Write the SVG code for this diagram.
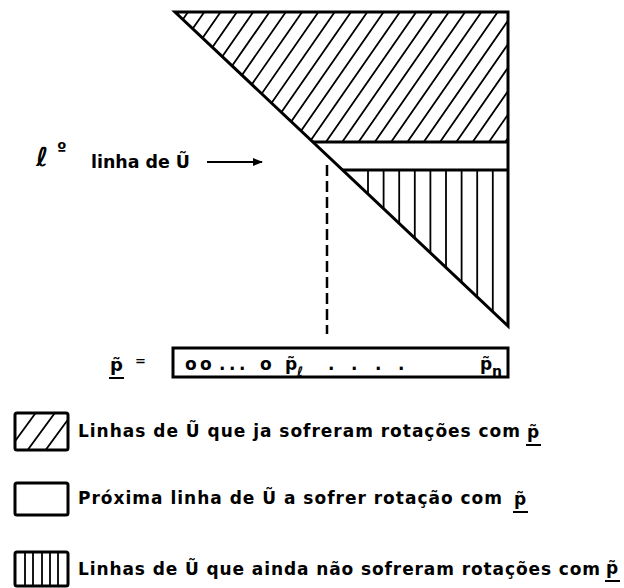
<svg xmlns="http://www.w3.org/2000/svg" width="624" height="588" viewBox="0 0 624 588">
<style>
.t{font-family:"DejaVu Sans","Liberation Sans",Arial,sans-serif;font-weight:bold;fill:#000}
.ol{fill:none;stroke:#000;stroke-width:3;stroke-linejoin:miter}
.h{fill:none;stroke:#000;stroke-width:1.8}
</style>
<defs>
<clipPath id="cTop"><path d="M175,12 L508,12 L508,142 L313,142 Z"/></clipPath>
<clipPath id="cBot"><path d="M343,170 L508,170 L508,326 Z"/></clipPath>
<clipPath id="cL1"><rect x="15" y="413" width="53" height="37"/></clipPath>
<marker id="ah" viewBox="0 0 10 10" refX="9" refY="5" markerWidth="12" markerHeight="10" markerUnits="userSpaceOnUse" orient="auto"><path d="M0,1 L10,5 L0,9 Z" fill="#000"/></marker>
</defs>
<rect width="624" height="588" fill="#fff"/>
<g id="matrix">
<g clip-path="url(#cTop)">
<path class="h" d="M208,-16.8L48,213.6M224.3,-16.8L64.3,213.6M240.6,-16.8L80.6,213.6M256.9,-16.8L96.9,213.6M273.2,-16.8L113.2,213.6M289.5,-16.8L129.5,213.6M305.8,-16.8L145.8,213.6M322.1,-16.8L162.1,213.6M338.4,-16.8L178.4,213.6M354.7,-16.8L194.7,213.6M371,-16.8L211,213.6M387.3,-16.8L227.3,213.6M403.6,-16.8L243.6,213.6M419.9,-16.8L259.9,213.6M436.2,-16.8L276.2,213.6M452.5,-16.8L292.5,213.6M468.8,-16.8L308.8,213.6M485.1,-16.8L325.1,213.6M501.4,-16.8L341.4,213.6M517.7,-16.8L357.7,213.6M534,-16.8L374,213.6M550.3,-16.8L390.3,213.6M566.6,-16.8L406.6,213.6M582.9,-16.8L422.9,213.6M599.2,-16.8L439.2,213.6M615.5,-16.8L455.5,213.6M631.8,-16.8L471.8,213.6"/>
</g>
<g clip-path="url(#cBot)">
<path class="h" d="M368,170V330M383.6,170V330M399.2,170V330M414.8,170V330M430.4,170V330M446,170V330M461.6,170V330M477.2,170V330M492.8,170V330"/>
</g>
<path class="ol" d="M175,12 L508,12 L508,326 Z"/>
<path class="ol" d="M313,142 H508 M343,170 H508"/>
</g>
<g id="connectors">
<line x1="327" y1="165" x2="327" y2="334" stroke="#000" stroke-width="2.5" stroke-dasharray="11,5"/>
<line x1="207" y1="162" x2="262" y2="162" stroke="#000" stroke-width="2" marker-end="url(#ah)"/>
</g>
<g id="row-label">
<text class="t" x="36" y="166" font-size="26" font-style="italic">ℓ</text>
<text class="t" x="57" y="155" font-size="17">º</text>
<text class="t" x="91" y="168" font-size="17" textLength="99" lengthAdjust="spacingAndGlyphs">linha de Ũ</text>
</g>
<g id="vector">
<text class="t" x="110" y="371" font-size="18">p̃</text>
<line x1="109" y1="378" x2="124" y2="378" stroke="#000" stroke-width="2"/>
<text class="t" x="135" y="365" font-size="13">=</text>
<rect class="ol" x="173" y="348" width="335" height="29" stroke-width="2.5"/>
<text class="t" font-size="17" y="370"><tspan x="185">o</tspan><tspan x="200">o</tspan><tspan x="219">.</tspan><tspan x="229">.</tspan><tspan x="239">.</tspan><tspan x="260">o</tspan><tspan x="285">p̃</tspan><tspan x="328">.</tspan><tspan x="351">.</tspan><tspan x="375">.</tspan><tspan x="398">.</tspan><tspan x="480">p̃</tspan></text>
<text class="t" font-size="13" font-style="italic" x="297" y="376">ℓ</text>
<text class="t" font-size="14" x="492" y="376">n</text>
</g>
<g id="legend1">
<rect class="ol" x="15" y="413" width="53" height="37" rx="2"/>
<g clip-path="url(#cL1)"><path class="h" d="M10,448 L40,407 M24,455 L57,410 M42,455 L72,414"/></g>
<text class="t" x="78" y="437" font-size="17" textLength="442" lengthAdjust="spacing">Linhas de Ũ que ja sofreram rotações com</text>
<text class="t" x="527" y="438" font-size="17">p̃</text>
<line x1="526" y1="445" x2="541" y2="445" stroke="#000" stroke-width="2"/>
</g>
<g id="legend2">
<rect class="ol" x="15" y="483" width="53" height="32" rx="2"/>
<text class="t" x="78" y="504" font-size="17" textLength="424" lengthAdjust="spacing">Próxima linha de Ũ a sofrer rotação com</text>
<text class="t" x="514" y="505" font-size="17">p̃</text>
<line x1="513" y1="512" x2="528" y2="512" stroke="#000" stroke-width="2"/>
</g>
<g id="legend3">
<rect class="ol" x="15" y="552" width="53" height="34" rx="2"/>
<path class="h" d="M25,552V586M33,552V586M42,552V586M50,552V586M58,552V586"/>
<text class="t" x="78" y="575" font-size="17" textLength="522" lengthAdjust="spacing">Linhas de Ũ que ainda não sofreram rotações com</text>
<text class="t" x="606" y="574" font-size="17">p̃</text>
<line x1="605" y1="581" x2="620" y2="581" stroke="#000" stroke-width="2"/>
</g>
</svg>
